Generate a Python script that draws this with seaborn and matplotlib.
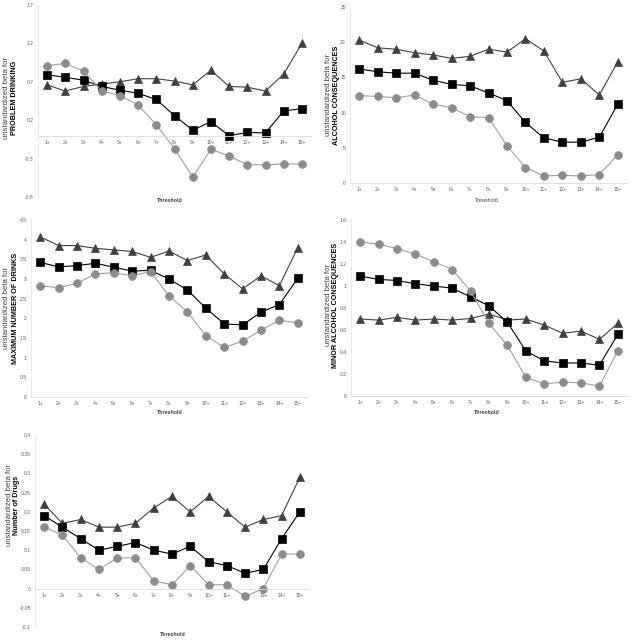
import numpy as np
import pandas as pd
import matplotlib
matplotlib.use("Agg")
import matplotlib.pyplot as plt
import seaborn as sns

sns.set_style("white")
plt.rcParams['font.family'] = ['Liberation Sans', 'DejaVu Sans']

thresholds = ['1+', '2+', '3+', '4+', '5+', '6+', '7+', '8+', '9+', '10+', '11+', '12+', '13+', '14+', '15+']

# problem drinking
pd_tri = [0.66, 0.58, 0.64, 0.67, 0.70, 0.74, 0.74, 0.71, 0.66, 0.85, 0.64, 0.63, 0.58, 0.80, 1.20]
pd_sq = [0.79, 0.76, 0.72, 0.64, 0.59, 0.55, 0.47, 0.26, 0.07, 0.18, 0.00, 0.04, 0.035, 0.32, 0.35]
pd_circ = [0.91, 0.94, 0.84, 0.58, 0.52, 0.40, 0.14, -0.17, -0.54, -0.18, -0.265, -0.38, -0.38, -0.37, -0.37]

# alcohol consequences
ac_tri = [20.3, 19.2, 19.0, 18.5, 18.2, 17.7, 18.0, 19.0, 18.6, 20.5, 18.75, 14.3, 14.8, 12.5, 17.2]
ac_sq = [16.2, 15.8, 15.6, 15.6, 14.6, 14.0, 13.8, 12.8, 11.7, 8.6, 6.4, 5.8, 5.8, 6.5, 11.2]
ac_circ = [12.4, 12.3, 12.1, 12.5, 11.2, 10.7, 9.4, 9.3, 5.3, 2.2, 1.0, 1.1, 1.0, 1.2, 4.0]

# maximum number of drinks
mx_tri = [4.07, 3.85, 3.85, 3.78, 3.74, 3.70, 3.55, 3.71, 3.47, 3.61, 3.13, 2.75, 3.08, 2.83, 3.80]
mx_sq = [3.42, 3.31, 3.34, 3.40, 3.30, 3.20, 3.22, 3.00, 2.72, 2.26, 1.86, 1.83, 2.16, 2.35, 3.02]
mx_circ = [2.83, 2.78, 2.89, 3.13, 3.16, 3.08, 3.19, 2.57, 2.16, 1.56, 1.26, 1.42, 1.70, 1.95, 1.89]

# minor alcohol consequences
mn_tri = [0.70, 0.69, 0.715, 0.69, 0.70, 0.69, 0.705, 0.745, 0.69, 0.70, 0.645, 0.57, 0.59, 0.515, 0.66]
mn_sq = [1.09, 1.06, 1.05, 1.02, 1.00, 0.98, 0.90, 0.82, 0.67, 0.41, 0.32, 0.30, 0.30, 0.28, 0.56]
mn_circ = [1.40, 1.38, 1.34, 1.29, 1.22, 1.15, 0.955, 0.66, 0.46, 0.17, 0.11, 0.127, 0.12, 0.09, 0.41]

# number of drugs
dr_tri = [0.22, 0.17, 0.18, 0.16, 0.16, 0.17, 0.21, 0.24, 0.20, 0.24, 0.20, 0.16, 0.18, 0.19, 0.29]
dr_sq = [0.19, 0.16, 0.13, 0.10, 0.11, 0.12, 0.10, 0.09, 0.11, 0.07, 0.06, 0.04, 0.05, 0.13, 0.20]
dr_circ = [0.16, 0.14, 0.08, 0.05, 0.08, 0.08, 0.02, 0.01, 0.06, 0.01, 0.01, -0.02, 0.00, 0.09, 0.09]

W, H = 632, 642
fig = plt.figure(figsize=(W / 100, H / 100), dpi=100)

def px_axes(left, right, top, bottom):
    return fig.add_axes([left / W, 1 - bottom / H, (right - left) / W, (bottom - top) / H])

panels = [
    # box (l, r, t, b), ylim, yticks, series, label, label pos (x1, x2, yc), threshold pos, bold threshold
    ((38, 311, 5, 197), (-0.8, 1.7), [-0.8, -0.3, 0.2, 0.7, 1.2, 1.7], (pd_tri, pd_sq, pd_circ),
     'PROBLEM DRINKING', (7, 15, 98), (170, 201), True),
    ((350, 627, 7, 183), (0, 25), [0, 5, 10, 15, 20, 25], (ac_tri, ac_sq, ac_circ),
     'ALCOHOL CONSEQUENCES', (329, 337, 95), (487, 200), False),
    ((31, 307, 220, 397), (0, 4.5), [0, 0.5, 1, 1.5, 2, 2.5, 3, 3.5, 4, 4.5], (mx_tri, mx_sq, mx_circ),
     'MAXIMUM NUMBER OF DRINKS', (7, 16, 308), (170, 413), True),
    ((351, 627, 220, 396), (0, 1.6), [0, 0.2, 0.4, 0.6, 0.8, 1, 1.2, 1.4, 1.6], (mn_tri, mn_sq, mn_circ),
     'MINOR ALCOHOL CONSEQUENCES', (328, 336, 305), (487, 412), True),
    ((35, 309, 435, 627), (-0.1, 0.4), [-0.1, -0.05, 0, 0.05, 0.1, 0.15, 0.2, 0.25, 0.3, 0.35, 0.4],
     (dr_tri, dr_sq, dr_circ), 'Number of Drugs', (10, 16, 505), (173, 635), True),
]

styles = [
    dict(marker='^', color='#404040', mfc='#404040', mec='#404040', ms=6.0),
    dict(marker='s', color='#000000', mfc='#000000', mec='#000000', ms=5.3),
    dict(marker='o', color='#a0a0a0', mfc='#8c8c8c', mec='#8c8c8c', ms=5.6),
]

def fmt(v):
    return '%g' % round(v, 3)

x = np.arange(len(thresholds))
for box, ylim, yticks, series, label, lpos, tpos, tbold in panels:
    ax = px_axes(*box)
    for vals, st in zip(series, styles):
        df = pd.DataFrame({'x': x, 'y': vals})
        sns.lineplot(data=df, x='x', y='y', ax=ax, marker=st['marker'], color=st['color'],
                     markerfacecolor=st['mfc'], markeredgecolor=st['mec'], markersize=st['ms'],
                     linewidth=0.8, markeredgewidth=0.5)
    ax.set_xlim(-0.5, len(thresholds) - 0.5)
    ax.set_ylim(*ylim)
    ax.set_yticks(yticks)
    ax.set_yticklabels([fmt(v) for v in yticks])
    ax.set_xticks(x)
    ax.set_xticklabels(thresholds)
    ax.set_xlabel('')
    ax.set_ylabel('')
    for s in ['top', 'right']:
        ax.spines[s].set_visible(False)
    ax.spines['left'].set_color('#e6e6e6')
    ax.spines['left'].set_linewidth(0.6)
    ax.spines['bottom'].set_color('#d9d9d9')
    ax.spines['bottom'].set_linewidth(0.6)
    ax.spines['bottom'].set_position(('data', 0))
    ax.tick_params(axis='both', length=0, labelsize=3.6, labelcolor='#606060', pad=3)
    ax.grid(False)

    x1, x2, yc = lpos
    fig.text(x1 / W, 1 - yc / H, 'unstandardized beta for', rotation=90, ha='center', va='center',
             fontsize=5.6, color='#404040')
    fig.text(x2 / W, 1 - yc / H, label, rotation=90, ha='center', va='center',
             fontsize=5.2, fontweight='bold', color='#000000')
    tx, ty = tpos
    fig.text(tx / W, 1 - ty / H, 'Threshold', ha='center', va='center', fontsize=3.8,
             fontweight='bold' if tbold else 'normal', color='#404040')

fig.savefig('out.png', dpi=100)
